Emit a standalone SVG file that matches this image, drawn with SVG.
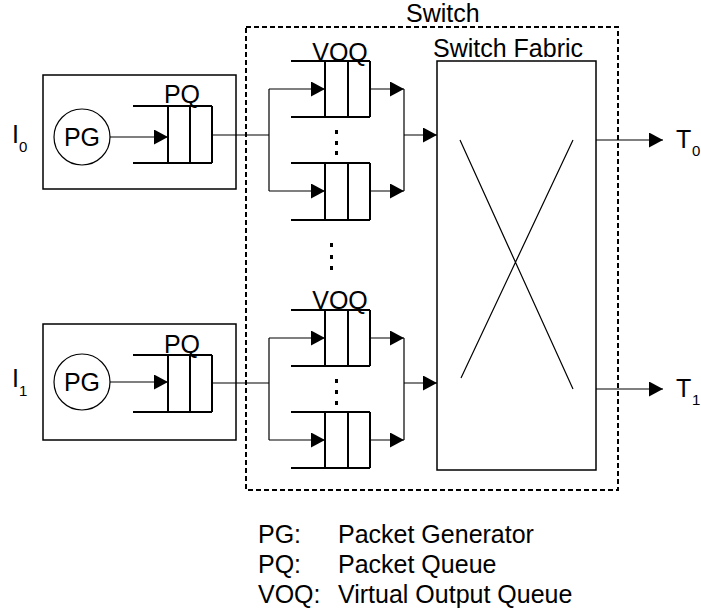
<svg xmlns="http://www.w3.org/2000/svg" width="701" height="613" viewBox="0 0 701 613">
<style>
text{font-family:"Liberation Sans",Arial,sans-serif;fill:#000}
.t{font-size:25px}
.sub{font-size:15px}
.box{fill:#fff;stroke:#000;stroke-width:1.5}
.q{fill:none;stroke:#000;stroke-width:2}
.c{fill:none;stroke:#000;stroke-width:1.2}
.dash{fill:none;stroke:#000;stroke-width:2;stroke-dasharray:5,3}
</style>
<defs>
<marker id="ah" markerWidth="14" markerHeight="15" refX="14" refY="7.5" orient="auto" markerUnits="userSpaceOnUse">
<path d="M0,0 L14,7.5 L0,15 Z" fill="#000"/>
</marker>
</defs>
<rect width="701" height="613" fill="#fff"/>

<g id="switch">
<rect class="dash" x="246" y="27" width="372" height="463"/>
<text class="t" x="406" y="22">Switch</text>
</g>

<g id="I0">
<rect class="box" x="43" y="75" width="193" height="114"/>
<text class="t" x="12" y="143">I</text><text class="sub" x="19" y="152">0</text>
</g>
<g id="PG0">
<circle cx="82" cy="137" r="28" fill="#fff" stroke="#000" stroke-width="1.2"/>
<text class="t" x="82" y="146" text-anchor="middle">PG</text>
</g>
<g id="PQ0">
<path class="q" d="M133,106 H212 M133,163 H212 M168,106 V163 M190,106 V163 M212,106 V163"/>
<text class="t" x="182" y="103" text-anchor="middle">PQ</text>
</g>

<g id="I1">
<rect class="box" x="43" y="324" width="193" height="116"/>
<text class="t" x="12" y="387">I</text><text class="sub" x="19" y="396">1</text>
</g>
<g id="PG1">
<circle cx="82" cy="382" r="28" fill="#fff" stroke="#000" stroke-width="1.2"/>
<text class="t" x="82" y="391" text-anchor="middle">PG</text>
</g>
<g id="PQ1">
<path class="q" d="M133,355 H212 M133,412 H212 M168,355 V412 M190,355 V412 M212,355 V412"/>
<text class="t" x="182" y="353" text-anchor="middle">PQ</text>
</g>

<g id="VOQ00">
<path class="q" d="M291,61 H370 M291,117 H370 M325,61 V117 M348,61 V117 M370,61 V117"/>
<text class="t" x="340" y="61" text-anchor="middle">VOQ</text>
</g>
<g id="VOQ01">
<path class="q" d="M291,163 H370 M291,220 H370 M325,163 V220 M348,163 V220 M370,163 V220"/>
</g>
<g id="VOQ10">
<path class="q" d="M291,310 H370 M291,366 H370 M325,310 V366 M348,310 V366 M370,310 V366"/>
<text class="t" x="340" y="309" text-anchor="middle">VOQ</text>
</g>
<g id="VOQ11">
<path class="q" d="M291,412 H370 M291,468 H370 M325,412 V468 M348,412 V468 M370,412 V468"/>
</g>

<g id="dots" fill="#000">
<rect x="335" y="130" width="3" height="4"/><rect x="335" y="141" width="3" height="4"/><rect x="335" y="151" width="3" height="4"/>
<rect x="330" y="243" width="3" height="4"/><rect x="330" y="255" width="3" height="4"/><rect x="330" y="266" width="3" height="4"/>
<rect x="335" y="379" width="3" height="4"/><rect x="335" y="390" width="3" height="4"/><rect x="335" y="401" width="3" height="4"/>
</g>

<g id="fabric">
<rect class="box" x="437" y="61" width="159" height="409"/>
<text class="t" x="433" y="57">Switch Fabric</text>
<path class="c" d="M460,140 L573,389 M573,140 L461,378"/>
</g>

<g id="T0"><text class="t" x="676" y="148">T</text><text class="sub" x="692" y="156">0</text></g>
<g id="T1"><text class="t" x="676" y="397">T</text><text class="sub" x="692" y="405">1</text></g>

<g id="connectors">
<path class="c" d="M110,137 H168" marker-end="url(#ah)"/>
<path class="c" d="M110,382 H168" marker-end="url(#ah)"/>
<path class="c" d="M212,135 H269 M269,89 V191"/>
<path class="c" d="M269,89 H325" marker-end="url(#ah)"/>
<path class="c" d="M269,191 H325" marker-end="url(#ah)"/>
<path class="c" d="M370,89 H404" marker-end="url(#ah)"/>
<path class="c" d="M370,191 H404" marker-end="url(#ah)"/>
<path class="c" d="M404,89 V191"/>
<path class="c" d="M404,135 H437" marker-end="url(#ah)"/>
<path class="c" d="M212,383 H269 M269,338 V440"/>
<path class="c" d="M269,338 H325" marker-end="url(#ah)"/>
<path class="c" d="M269,440 H325" marker-end="url(#ah)"/>
<path class="c" d="M370,338 H404" marker-end="url(#ah)"/>
<path class="c" d="M370,440 H404" marker-end="url(#ah)"/>
<path class="c" d="M404,338 V440"/>
<path class="c" d="M404,383 H437" marker-end="url(#ah)"/>
<path class="c" d="M596,140 H663" marker-end="url(#ah)"/>
<path class="c" d="M596,389 H663" marker-end="url(#ah)"/>
</g>

<g id="legend">
<text class="t" x="258" y="543">PG:</text><text class="t" x="338" y="543">Packet Generator</text>
<text class="t" x="258" y="573">PQ:</text><text class="t" x="338" y="573">Packet Queue</text>
<text class="t" x="258" y="603">VOQ:</text><text class="t" x="338" y="603">Virtual Output Queue</text>
</g>
</svg>
